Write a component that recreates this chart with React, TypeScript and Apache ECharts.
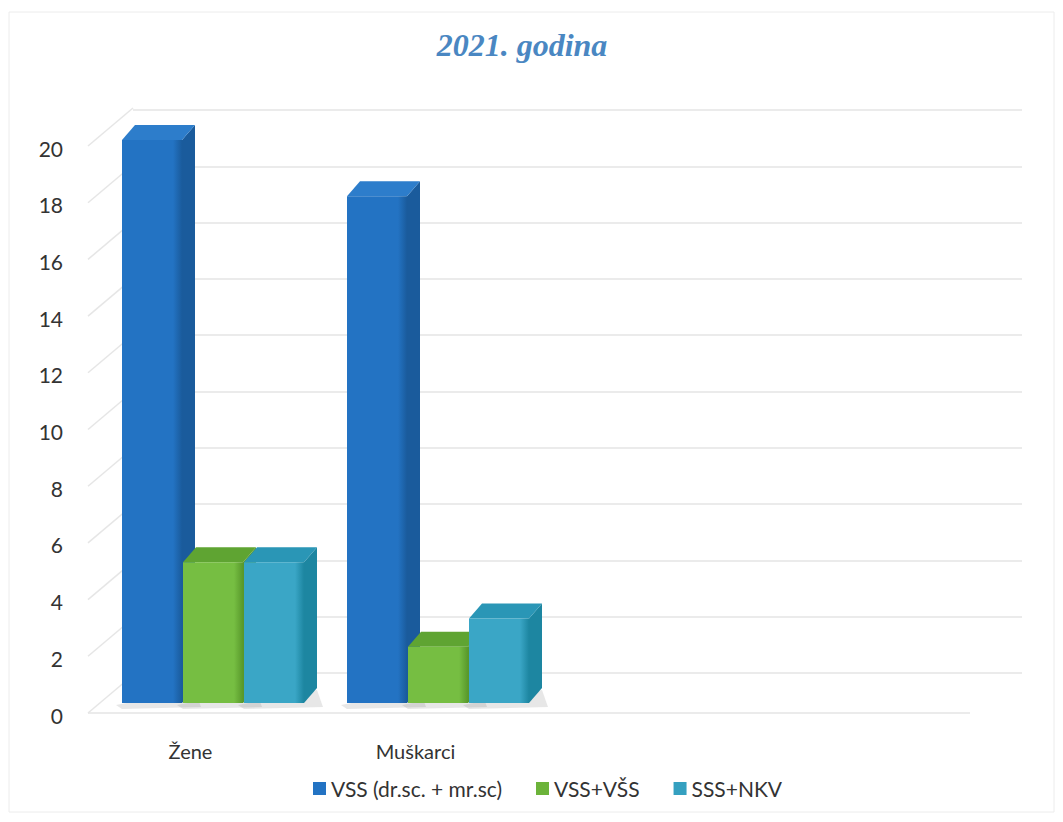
import React, { useEffect, useRef } from "react";
import * as echarts from "echarts";

const categories = ["Žene", "Muškarci", "", ""];
const seriesNames = ["VSS (dr.sc. + mr.sc)", "VSS+VŠS", "SSS+NKV"];
const vssDrMr = [20, 18];
const vssVss = [5, 2];
const sssNkv = [5, 3];
const yMin = 0;
const yMax = 20;
const yStep = 2;
const titleText = "2021. godina";

const faces = [
  { front: "#2373c3", side: "#1a5b9c", top: "#2d7dcb", legend: "#2373c3" },
  { front: "#76be42", side: "#58982b", top: "#5fa432", legend: "#6cb33a" },
  { front: "#3aa6c6", side: "#1d86a1", top: "#2a96b6", legend: "#35a0c0" },
];

const BAR_W = 60;
const BAR_STEP = 61;
const DX = 13;
const DY = 15;

function makeBarRender(s: number) {
  const c = faces[s];
  return (params: any, api: any) => {
    const cat = api.value(0);
    const val = api.value(1);
    const pTop = api.coord([cat, val]);
    const pBase = api.coord([cat, 0]);
    const x0 = pTop[0] - (BAR_STEP * 3) / 2 + s * BAR_STEP;
    const yT = pTop[1];
    const yB = pBase[1];
    const w = BAR_W;
    return {
      type: "group",
      children: [
        {
          type: "polygon",
          shape: { points: [[x0 - 6, yB + 2], [x0 + w + DX, yB - DY + 2], [x0 + w + DX + 6, yB + 4], [x0, yB + 6]] },
          style: { fill: "rgba(120,120,120,0.18)" },
        },
        {
          type: "polygon",
          shape: { points: [[x0 + w, yB], [x0 + w + DX, yB - DY], [x0 + w + DX, yT - DY], [x0 + w, yT]] },
          style: { fill: c.side },
        },
        {
          type: "polygon",
          shape: { points: [[x0, yT], [x0 + w, yT], [x0 + w + DX, yT - DY], [x0 + DX, yT - DY]] },
          style: { fill: c.top },
        },
        {
          type: "rect",
          shape: { x: x0, y: yT, width: w, height: yB - yT },
          style: {
            fill: new echarts.graphic.LinearGradient(0, 0, 1, 0, [
              { offset: 0, color: c.front },
              { offset: 0.85, color: c.front },
              { offset: 1, color: c.side },
            ]),
          },
        },
      ],
    };
  };
}

export default function App() {
  const ref = useRef<HTMLDivElement>(null);
  useEffect(() => {
    if (!ref.current) return;
    const chart = echarts.init(ref.current, null, { renderer: "svg" });
    const ticks: number[] = [];
    for (let v = yMin; v <= yMax; v += yStep) ticks.push(v);
    const seriesData = [vssDrMr, vssVss, sssNkv];
    const font = "Lato, 'Noto Sans', sans-serif";

    chart.setOption({
      animation: false,
      backgroundColor: "#ffffff",
      title: {
        text: titleText,
        left: 517,
        top: 24,
        textAlign: "center",
        textStyle: {
          fontFamily: "'Liberation Serif', 'DejaVu Serif', serif",
          fontStyle: "italic",
          fontWeight: "bold",
          fontSize: 32,
          color: "#4a87c2",
        },
      },
      legend: {
        left: 308,
        top: 773,
        itemWidth: 13,
        itemHeight: 13,
        itemGap: 34,
        icon: "rect",
        textStyle: { fontFamily: font, fontSize: 21, color: "#333333", padding: [0, 0, 0, 0] },
        data: seriesNames,
      },
      graphic: [
        {
          type: "rect",
          shape: { x: 9, y: 12, width: 1045, height: 800 },
          style: { fill: "none", stroke: "#ececec", lineWidth: 1 },
          silent: true,
        },
      ],
      grid: [
        { left: 133, top: 110, width: 889, height: 563 },
        { left: 101, top: 140, width: 900, height: 563 },
        { left: 78, top: 148, width: 900, height: 567 },
      ],
      xAxis: [
        { gridIndex: 0, type: "category", data: categories, show: false },
        { gridIndex: 1, type: "category", data: categories, show: false },
        {
          gridIndex: 2,
          type: "category",
          data: categories,
          axisLine: { show: false },
          axisTick: { show: false },
          axisLabel: { fontFamily: font, fontSize: 20, color: "#333333", margin: 26 },
        },
      ],
      yAxis: [
        {
          gridIndex: 0,
          type: "value",
          min: yMin,
          max: yMax,
          interval: yStep,
          axisLabel: { show: false },
          axisLine: { show: false },
          axisTick: { show: false },
          splitLine: { show: true, lineStyle: { color: "#e4e4e4", width: 1.5 } },
        },
        { gridIndex: 1, type: "value", min: yMin, max: yMax, interval: yStep, show: false, splitLine: { show: false } },
        {
          gridIndex: 2,
          type: "value",
          min: yMin,
          max: yMax,
          interval: yStep,
          axisLine: { show: false },
          axisTick: { show: false },
          splitLine: { show: false },
          axisLabel: { fontFamily: font, fontSize: 21, color: "#333333", margin: 15 },
        },
      ],
      series: [
        {
          type: "custom",
          name: "sidewall",
          xAxisIndex: 2,
          yAxisIndex: 2,
          silent: true,
          data: ticks.map((v) => [0, v]),
          encode: { x: 0, y: 1 },
          renderItem: (params: any, api: any) => {
            const y = api.coord([0, api.value(1)])[1];
            const x = params.coordSys.x;
            const children: any[] = [
              {
                type: "line",
                shape: { x1: x + 10, y1: y - 2, x2: x + 55, y2: y - 40 },
                style: { stroke: "#e6e6e6", lineWidth: 1.5 },
              },
            ];
            if (api.value(1) === 0) {
              children.push({
                type: "line",
                shape: { x1: x + 10, y1: y - 2, x2: x + 892, y2: y - 2 },
                style: { stroke: "#e4e4e4", lineWidth: 1.5 },
              });
            }
            return { type: "group", children };
          },
        },
        ...seriesNames.map((name, s) => ({
          type: "custom",
          name,
          xAxisIndex: 1,
          yAxisIndex: 1,
          itemStyle: { color: faces[s].legend },
          data: seriesData[s].map((v, i) => [i, v]),
          encode: { x: 0, y: 1 },
          renderItem: makeBarRender(s),
        })),
      ],
    });
    return () => chart.dispose();
  }, []);

  return (
    <div
      ref={ref}
      style={{ position: "fixed", left: 0, top: 0, width: 1063, height: 822 }}
    />
  );
}
